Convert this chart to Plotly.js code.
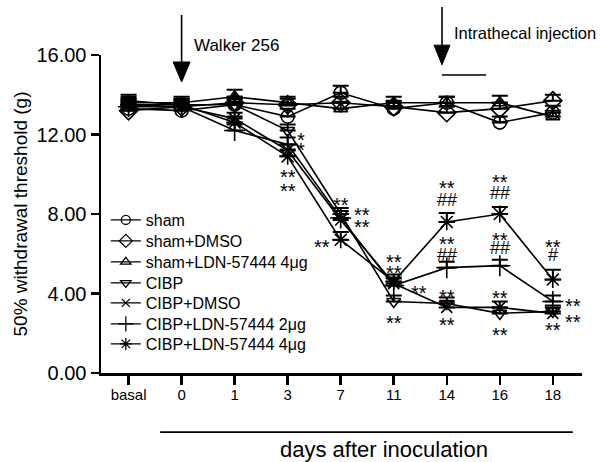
<!DOCTYPE html>
<html>
<head>
<meta charset="utf-8">
<script src="https://cdn.plot.ly/plotly-3.0.1.min.js"></script>
<style>html,body{margin:0;padding:0;background:#fff;}#chart{width:600px;height:462px;}</style>
</head>
<body>
<div id="chart"></div>
<script>
// ---- data ----
const categories = ['basal', '0', '1', '3', '7', '11', '14', '16', '18'];
const seriesNames = ['sham', 'sham+DMSO', 'sham+LDN-57444 4μg', 'CIBP', 'CIBP+DMSO',
  'CIBP+LDN-57444 2μg', 'CIBP+LDN-57444 4μg'];
const sham        = [13.3, 13.2, 13.5, 12.9, 14.1, 13.3, 13.6, 12.6, 13.1];
const shamDMSO    = [13.2, 13.4, 13.6, 13.5, 13.6, 13.4, 13.1, 13.3, 13.7];
const shamLDN4    = [13.6, 13.6, 13.9, 13.6, 13.3, 13.6, 13.6, 13.6, 12.9];
const cibp        = [13.7, 13.5, 13.5, 12.2, 8.0, 3.6, 3.5, 3.0, 3.1];
const cibpDMSO    = [13.5, 13.4, 12.8, 11.2, 7.7, 4.5, 3.3, 3.3, 3.0];
const cibpLDN2    = [13.4, 13.4, 12.2, 11.5, 7.8, 4.4, 5.3, 5.4, 3.6];
const cibpLDN4    = [13.5, 13.5, 12.6, 10.9, 6.7, 4.6, 7.6, 8.0, 4.7];
const shamErr     = [0.3, 0.4, 0.3, 0.4, 0.35, 0.35, 0.3, 0.3, 0.35];
const shamDMSOErr = [0.3, 0.3, 0.3, 0.3, 0.3, 0.3, 0.3, 0.3, 0.3];
const shamLDN4Err = [0.3, 0.3, 0.35, 0.3, 0.35, 0.3, 0.3, 0.35, 0.3];
const cibpErr     = [0.3, 0.3, 0.3, 0.3, 0.3, 0.3, 0.3, 0.3, 0.3];
const cibpDMSOErr = [0.3, 0.3, 0.3, 0.3, 0.3, 0.3, 0.3, 0.3, 0.3];
const cibpLDN2Err = [0.3, 0.3, 0.3, 0.35, 0.35, 0.35, 0.3, 0.3, 0.3];
const cibpLDN4Err = [0.3, 0.3, 0.3, 0.35, 0.4, 0.35, 0.45, 0.35, 0.5];
const yTickVals   = [0, 4, 8, 12, 16];
const yTickText   = ['0.00', '4.00', '8.00', '12.00', '16.00'];
// significance labels: text, category index, value
const sigText = ['*', '*', '**', '**',
  '**', '**', '**', '**',
  '**', '**', '**', '**',
  '**', '##', '**', '##', '**', '**',
  '**', '##', '**', '##', '**', '**',
  '**', '#', '**', '**', '**'];
const sigCat = [3.26, 3.26, 3.0, 3.0,
  4.0, 4.4, 4.4, 3.65,
  5.0, 5.0, 5.47, 5.0,
  6, 6, 6, 6, 6, 6,
  7, 7, 7, 7, 7, 7,
  8, 8, 8.38, 8.38, 8];
const sigVal = [11.97, 11.47, 10.11, 9.41,
  8.70, 8.20, 7.60, 6.59,
  5.84, 5.28, 4.28, 2.77,
  9.56, 8.70, 6.74, 5.94, 4.08, 2.67,
  9.86, 9.06, 6.94, 6.29, 4.03, 2.16,
  6.59, 5.94, 3.62, 2.82, 2.42];

// ---- chart ----
const values = [sham, shamDMSO, shamLDN4, cibp, cibpDMSO, cibpLDN2, cibpLDN4];
const errs = [shamErr, shamDMSOErr, shamLDN4Err, cibpErr, cibpDMSOErr, cibpLDN2Err, cibpLDN4Err];
const symbols = ['circle-open', 'diamond-open', 'triangle-up-open', 'triangle-down-open',
  'x-thin-open', 'cross-thin-open', 'asterisk-open'];
const sizes = [13, 14, 12, 12, 11, 15, 14];
const legendSizes = [9, 10, 9, 9, 8, 11, 10];
const xIdx = categories.map((c, i) => i);
const FONT = 'Arial, "Liberation Sans", sans-serif';
const legendIds = ['legend', 'legend2', 'legend3', 'legend4', 'legend5', 'legend6', 'legend7'];
const legendRowPx = [220, 241, 262, 283, 303, 324, 344];

const traces = values.map((v, k) => ({
  type: 'scatter', mode: 'lines+markers', name: seriesNames[k],
  x: xIdx, y: v, showlegend: false, legendgroup: 'g' + k,
  line: {color: 'black', width: 1.6},
  marker: {symbol: symbols[k], size: sizes[k], color: 'black', line: {color: 'black', width: 1.6}},
  error_y: {type: 'data', symmetric: false, array: errs[k], arrayminus: v.map(() => 0),
    color: 'black', thickness: 2, width: 8},
  cliponaxis: false
}));
// legend entries (same styling, smaller symbols as in the reference legend)
values.forEach((v, k) => traces.push({
  type: 'scatter', mode: 'lines+markers', name: seriesNames[k], legend: legendIds[k],
  legendgroup: 'g' + k, x: [null], y: [null],
  line: {color: 'black', width: 1.3},
  marker: {symbol: symbols[k], size: legendSizes[k], color: 'black', line: {color: 'black', width: 1.3}}
}));

const annotations = sigText.map((t, i) => ({
  xref: 'x', yref: 'y', x: sigCat[i], y: sigVal[i], text: t, showarrow: false,
  font: {family: FONT, size: t.indexOf('#') >= 0 ? 18 : 20, color: 'black'},
  xanchor: 'center', yanchor: 'middle', yshift: t.indexOf('#') >= 0 ? 0 : -5
}));
annotations.push(
  {xref: 'x', yref: 'paper', x: 1.2, y: 1.031, text: 'Walker 256', showarrow: false,
   xanchor: 'left', yanchor: 'middle', font: {family: FONT, size: 17, color: 'black'}},
  {xref: 'x', yref: 'paper', x: 6.1, y: 1.069, text: 'Intrathecal injection', showarrow: false,
   xanchor: 'left', yanchor: 'middle', font: {family: FONT, size: 16.5, color: 'black'}},
  {xref: 'paper', yref: 'paper', x: 0.588, y: -0.24, text: 'days after inoculation', showarrow: false,
   xanchor: 'center', yanchor: 'middle', font: {family: FONT, size: 22, color: 'black'}}
);

const shapes = [
  {type: 'line', xref: 'x', yref: 'paper', x0: 1.0, x1: 1.0, y0: 1.126, y1: 0.97, line: {color: 'black', width: 1.6}},
  {type: 'path', xref: 'x', yref: 'paper', path: 'M 0.84 0.978 L 1.16 0.978 L 1.0 0.915 Z',
   fillcolor: 'black', line: {color: 'black', width: 1}},
  {type: 'line', xref: 'x', yref: 'paper', x0: 5.91, x1: 5.91, y0: 1.151, y1: 1.02, line: {color: 'black', width: 1.6}},
  {type: 'path', xref: 'x', yref: 'paper', path: 'M 5.76 1.031 L 6.06 1.031 L 5.91 0.969 Z',
   fillcolor: 'black', line: {color: 'black', width: 1}},
  {type: 'line', xref: 'x', yref: 'paper', x0: 5.91, x1: 6.74, y0: 0.937, y1: 0.937, line: {color: 'black', width: 1.6}},
  {type: 'line', xref: 'paper', yref: 'paper', x0: 0.123, x1: 0.981, y0: -0.186, y1: -0.186, line: {color: 'black', width: 1.6}}
];

const layout = {
  width: 600, height: 462,
  margin: {l: 101, r: 18, t: 55, b: 89},
  paper_bgcolor: 'white', plot_bgcolor: 'white',
  font: {family: FONT, color: 'black'},
  showlegend: true,
  xaxis: {range: [-0.52, 8.55], tickvals: xIdx, ticktext: categories, ticks: 'outside',
    ticklen: 9, tickwidth: 2.5, tickcolor: 'black', showline: true, linewidth: 2.5, linecolor: 'black',
    ticklabelstandoff: -3,
    showgrid: false, zeroline: false, tickfont: {family: FONT, size: 15, color: 'black'}},
  yaxis: {range: [0, 16], tickvals: yTickVals, ticktext: yTickText, ticks: 'outside',
    ticklen: 8, tickwidth: 2.5, tickcolor: 'black', showline: true, linewidth: 2.5, linecolor: 'black',
    showgrid: false, zeroline: false, tickfont: {family: FONT, size: 20, color: 'black'},
    title: {text: '50% withdrawal threshold (g)', font: {family: FONT, size: 19, color: 'black'}, standoff: 4}},
  annotations: annotations,
  shapes: shapes
};
legendIds.forEach((id, k) => {
  layout[id] = {x: 0.01, y: (373 - legendRowPx[k]) / 318, xanchor: 'left', yanchor: 'middle',
    bgcolor: 'rgba(0,0,0,0)', itemwidth: 30,
    font: {family: FONT, size: 16, color: 'black'}};
});

Plotly.newPlot('chart', traces, layout, {displayModeBar: false, staticPlot: true});
</script>
</body>
</html>
